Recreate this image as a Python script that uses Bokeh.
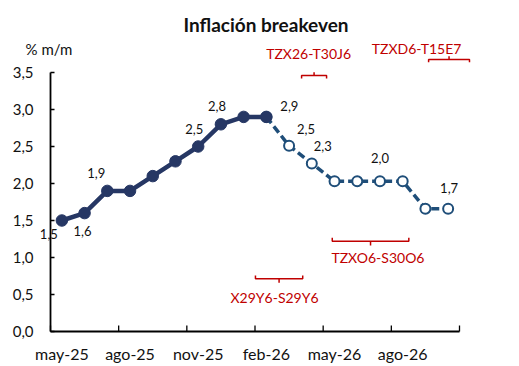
from bokeh.plotting import figure
from bokeh.models import Range1d, Label, LabelSet, ColumnDataSource
from bokeh.embed import file_html
from bokeh.resources import INLINE
from bokeh.core.properties import value

# ---- data (month index 0 = may-25) ----
months = ["may-25", "jun-25", "jul-25", "ago-25", "sep-25", "oct-25", "nov-25", "dic-25",
          "ene-26", "feb-26", "mar-26", "abr-26", "may-26", "jun-26", "jul-26", "ago-26",
          "sep-26", "oct-26"]
inflacion = [1.5, 1.6, 1.9, 1.9, 2.1, 2.3, 2.5, 2.8, 2.9, 2.9]          # may-25 .. feb-26
breakeven = [2.9, 2.51, 2.27, 2.03, 2.03, 2.03, 2.03, 1.66, 1.66]      # feb-26 .. oct-26
breakeven_start = 9                                                     # feb-26
tick_labels = ["may-25", "ago-25", "nov-25", "feb-26", "may-26", "ago-26"]
y_ticks = [0.0, 0.5, 1.0, 1.5, 2.0, 2.5, 3.0, 3.5]

# labelled points
inf_lab_idx = [0, 1, 2, 6, 7]
be_lab_idx = [0, 1, 2, 5, 8]

# bond windows (month units from may-25) and annotation names
bond_names = ["TZX26-T30J6", "TZXD6-T15E7", "TZXO6-S30O6", "X29Y6-S29Y6"]
bond_from = [11.05, 16.64, 12.40, 9.02]
bond_to = [12.15, 18.44, 15.77, 11.10]

# ---- styling / layout constants ----
FONT = "Lato"
NAVY = "#263764"
BLUE = "#1F4E79"
RED = "#C00000"
TXT = "#111111"

W, H = 519, 366
X0_PX, Y0_PX = 50, 331        # pixel of data origin
px_x = 409 / 18.0              # px per month
px_y = 74.0                    # px per unit

p = figure(width=W, height=H, output_backend="svg", toolbar_location=None,
           x_range=Range1d(-X0_PX / px_x, (W - X0_PX) / px_x),
           y_range=Range1d(-(H - Y0_PX) / px_y, Y0_PX / px_y),
           min_border_left=0, min_border_right=0, min_border_top=0, min_border_bottom=0)
p.outline_line_color = None
p.xgrid.visible = False
p.ygrid.visible = False
p.xaxis.visible = False
p.yaxis.visible = False
p.background_fill_color = "white"
p.border_fill_color = "white"

def fmt(v):
    return f"{v:.1f}".replace(".", ",")

n_months = len(months)
x_bounds = list(range(0, n_months + 1, 3))
x_lab_pos = [i * 3 + 0.5 for i in range(len(tick_labels))]

# series
x_inf = [i + 0.5 for i in range(len(inflacion))]
x_be = [breakeven_start + i + 0.5 for i in range(len(breakeven))]

p.line(x_be, breakeven, line_color=BLUE, line_width=3.5, line_dash="8 4")
p.scatter(x_be, breakeven, size=10, marker="circle", fill_color="white",
          line_color=BLUE, line_width=2)
p.line(x_inf, inflacion, line_color=NAVY, line_width=4.5)
p.scatter(x_inf, inflacion, size=11.5, marker="circle", fill_color=NAVY, line_color=NAVY)

# data labels
inf_off = [(-13, -13), (-2, -18), (-11, 18), (-4, 18), (-4, 18)]
be_off = [(23, 11), (17, 17), (11, 18), (0, 23), (1, 21)]
lab_src = ColumnDataSource(dict(
    x=[x_inf[i] for i in inf_lab_idx] + [x_be[i] for i in be_lab_idx],
    y=[inflacion[i] for i in inf_lab_idx] + [breakeven[i] for i in be_lab_idx],
    t=[fmt(inflacion[i]) for i in inf_lab_idx] + [fmt(breakeven[i]) for i in be_lab_idx],
    xo=[o[0] for o in inf_off + be_off],
    yo=[o[1] for o in inf_off + be_off],
))
p.add_layout(LabelSet(x="x", y="y", text="t", x_offset="xo", y_offset="yo", source=lab_src,
                      text_align="center", text_baseline="middle",
                      text_font=value(FONT), text_font_size="13px", text_color=TXT))

# y axis (drawn as glyphs so that texts left of it stay visible)
p.segment(x0=[0], y0=[y_ticks[0]], x1=[0], y1=[y_ticks[-1]], line_color="black", line_width=1.8)
p.segment(x0=[0] * len(y_ticks), y0=y_ticks, x1=[4 / px_x] * len(y_ticks), y1=y_ticks,
          line_color="black", line_width=1.3)
p.text(x=[0] * len(y_ticks), y=y_ticks, text=[fmt(v) for v in y_ticks], x_offset=-17,
       text_align="right", text_baseline="middle", text_font=value(FONT),
       text_font_size="15px", text_color=TXT)

# x axis (month bands; labels centred on the month)
p.segment(x0=[0], y0=[0], x1=[n_months], y1=[0], line_color="black", line_width=1.8)
p.segment(x0=x_bounds, y0=[0] * len(x_bounds), x1=x_bounds, y1=[6 / px_y] * len(x_bounds),
          line_color="black", line_width=1.3)
p.text(x=x_lab_pos, y=[0] * len(x_lab_pos), text=tick_labels, y_offset=22,
       text_align="center", text_baseline="middle", text_font=value(FONT),
       text_font_size="16px", text_color=TXT)

# bond brackets
bar_y = [3.459, 3.676, 1.220, 0.712]
end_y = [3.419, 3.639, 1.266, 0.757]
mid_y = [3.504, 3.720, 1.162, 0.658]
txt_x = [11.36, 16.11, 14.41, 9.86]
txt_y = [3.753, 3.824, 1.004, 0.453]

xs, ys = [], []
for a, b, yb, ye, ym in zip(bond_from, bond_to, bar_y, end_y, mid_y):
    xs.append([a, a, b, b]); ys.append([ye, yb, yb, ye])
    c = (a + b) / 2
    xs.append([c, c]); ys.append([yb, ym])
p.multi_line(xs, ys, line_color=RED, line_width=1.5)

for name, tx, ty in zip(bond_names, txt_x, txt_y):
    p.add_layout(Label(x=tx, y=ty, text=name, text_align="center", text_baseline="middle",
                       text_font=FONT, text_font_size="14px", text_color=RED))

# title & unit
p.add_layout(Label(x=(265.5 - X0_PX) / px_x, y=(Y0_PX - 24) / px_y, text="Inflación breakeven",
                   text_align="center", text_baseline="middle", text_font=FONT,
                   text_font_size="19px", text_font_style="bold", text_color=TXT))
p.add_layout(Label(x=(48.5 - X0_PX) / px_x, y=(Y0_PX - 48) / px_y, text="% m/m",
                   text_align="center", text_baseline="middle", text_font=FONT,
                   text_font_size="15px", text_color=TXT))

open("out.html", "w").write(file_html(p, INLINE))
